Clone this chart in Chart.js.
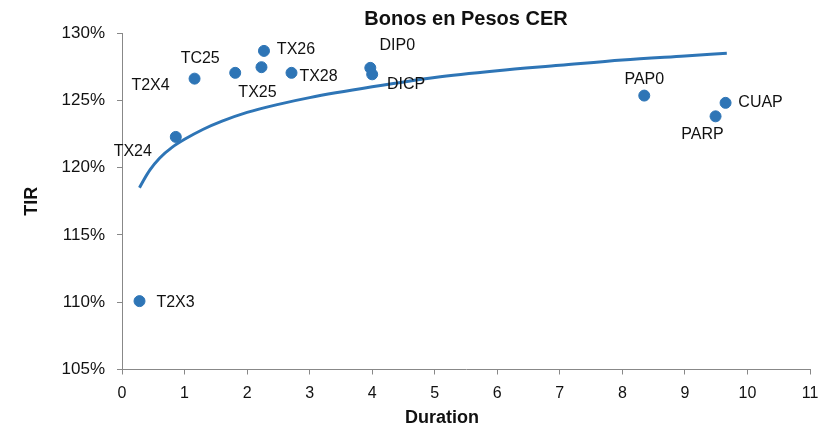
<!DOCTYPE html>
<html lang="es">
<head>
<meta charset="UTF-8">
<title>Bonos en Pesos CER</title>
<script src="https://cdn.jsdelivr.net/npm/chart.js"></script>
<style>
  body { margin: 0; padding: 0; background: #fff; }
  #wrap { width: 831px; height: 429px; }
</style>
</head>
<body>
<div id="wrap"><canvas id="bonos" width="831" height="429"></canvas></div>
<script>
// bonos: ticker, duration, TIR (%)
const tickers   = ['T2X3', 'TX24', 'T2X4', 'TC25', 'TX25', 'TX26', 'TX28', 'DIP0', 'DICP', 'PAP0', 'PARP', 'CUAP'];
const durations = [0.28, 0.86, 1.16, 1.81, 2.23, 2.27, 2.71, 3.97, 4.0, 8.35, 9.49, 9.65];
const tirs      = [110.08, 122.28, 126.61, 127.04, 127.46, 128.67, 127.04, 127.41, 126.93, 125.35, 123.81, 124.81];

// curva de tendencia
const trendX = [0.28, 0.35, 0.45, 0.6, 0.8, 1.0, 1.3, 1.6, 2, 2.5, 3, 4, 5, 6, 7, 8, 9, 9.67];
const trendY = [118.5, 119.1, 119.85, 120.7, 121.5, 122.1, 122.85, 123.45, 124.1, 124.7, 125.2, 126.0, 126.7, 127.2, 127.6, 128.0, 128.3, 128.5];

const xTicks = [0, 1, 2, 3, 4, 5, 6, 7, 8, 9, 10, 11];
const yTicks = [105, 110, 115, 120, 125, 130];

const blue = '#2e75b6';

// label offsets relative to the dot (center of text)
const labelPos = {
  T2X3: [36, 1], TX24: [-43, 15], T2X4: [-44, 7], TC25: [-35, -14],
  TX25: [-4, 25], TX26: [32, -1], TX28: [27, 4], DIP0: [27, -22],
  DICP: [34, 10], PAP0: [0, -16], PARP: [-13, 18], CUAP: [35, 0]
};

const textPlugin = {
  id: 'textPlugin',
  afterDatasetsDraw(chart) {
    const ctx = chart.ctx;
    const meta = chart.getDatasetMeta(1);
    ctx.save();
    ctx.fillStyle = '#111';
    ctx.textAlign = 'center';
    ctx.textBaseline = 'middle';
    ctx.font = '16px "Liberation Sans", Arial, sans-serif';
    meta.data.forEach((pt, i) => {
      const off = labelPos[tickers[i]] || [0, 0];
      ctx.fillText(tickers[i], pt.x + off[0], pt.y + off[1]);
    });

    const ca = chart.chartArea;
    ctx.font = 'bold 20px "Liberation Sans", Arial, sans-serif';
    ctx.fillText('Bonos en Pesos CER', (ca.left + ca.right) / 2, 19);

    ctx.font = 'bold 18px "Liberation Sans", Arial, sans-serif';
    ctx.fillText('Duration', 442, 418);

    ctx.translate(32, (ca.top + ca.bottom) / 2);
    ctx.rotate(-Math.PI / 2);
    ctx.fillText('TIR', 0, 0);
    ctx.restore();
  }
};

new Chart(document.getElementById('bonos'), {
  type: 'scatter',
  data: {
    datasets: [
      {
        label: 'Tendencia',
        data: trendX.map((x, i) => ({ x: x, y: trendY[i] })),
        showLine: true,
        borderColor: blue,
        borderWidth: 3,
        pointRadius: 0,
        cubicInterpolationMode: 'monotone',
        fill: false
      },
      {
        label: 'Bonos CER',
        data: durations.map((d, i) => ({ x: d, y: tirs[i] })),
        backgroundColor: blue,
        borderColor: blue,
        pointRadius: 5.5,
        pointHoverRadius: 5.5
      }
    ]
  },
  options: {
    responsive: false,
    animation: false,
    layout: { padding: { top: 33, right: 21, left: 0, bottom: 0 } },
    plugins: {
      legend: { display: false },
      tooltip: { enabled: false },
      title: { display: false }
    },
    scales: {
      x: {
        type: 'linear',
        min: xTicks[0],
        max: xTicks[xTicks.length - 1],
        afterBuildTicks: s => { s.ticks = xTicks.map(v => ({ value: v })); },
        afterFit: s => { s.height = 59.5; },
        border: { color: '#888', width: 1 },
        grid: { drawOnChartArea: false, tickLength: 5, color: '#888' },
        ticks: { color: '#111', padding: 9, font: { size: 16, family: '"Liberation Sans", Arial' } }
      },
      y: {
        min: yTicks[0],
        max: yTicks[yTicks.length - 1],
        afterBuildTicks: s => { s.ticks = yTicks.map(v => ({ value: v })); },
        afterFit: s => { s.width = 122; },
        border: { color: '#888', width: 1 },
        grid: { drawOnChartArea: false, tickLength: 5, color: '#888' },
        ticks: {
          color: '#111', padding: 12,
          font: { size: 17, family: '"Liberation Sans", Arial' },
          callback: v => v + '%'
        }
      }
    }
  },
  plugins: [textPlugin]
});
</script>
</body>
</html>
